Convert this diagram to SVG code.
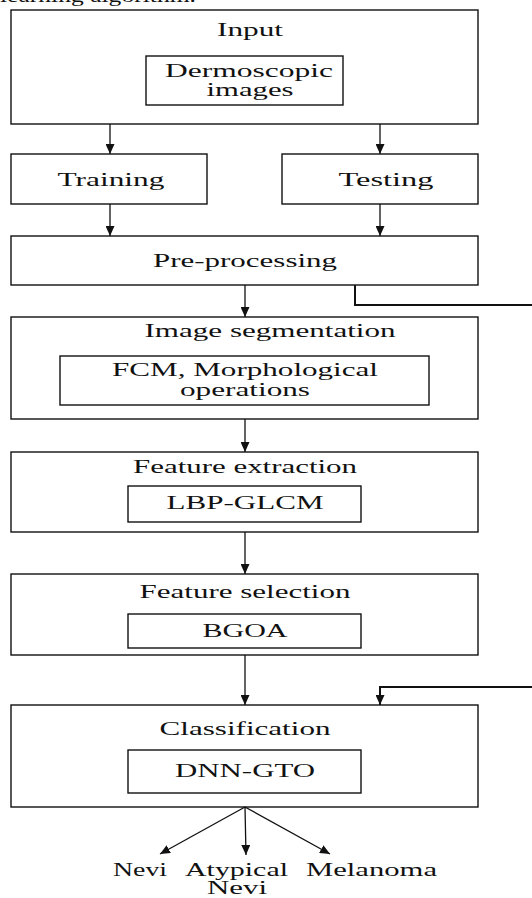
<svg xmlns="http://www.w3.org/2000/svg" width="532" height="898" viewBox="0 0 532 898">
<style>
  .box { fill: #ffffff; stroke: #111111; stroke-width: 1.4; }
  .t { font-family: "Liberation Serif", "Times New Roman", serif; font-size: 19px; fill: #111111; text-anchor: middle; }
  .c { fill: none; stroke: #111111; stroke-width: 1.3; }
  .cb { fill: none; stroke: #111111; stroke-width: 2; }
</style>
<defs>
  <marker id="ah" markerUnits="userSpaceOnUse" markerWidth="10" markerHeight="9" refX="10" refY="4.5" orient="auto" viewBox="0 0 10 9">
    <path d="M0,0 L10,4.5 L0,9 z" fill="#111111"/>
  </marker>
</defs>
<rect width="532" height="898" fill="#ffffff"/>
<text x="98" y="1.5" class="t" textLength="196" lengthAdjust="spacingAndGlyphs">learning algorithm.</text>

<g id="input">
  <rect class="box" x="11" y="10" width="467" height="114"/>
  <text class="t" x="250" y="36" textLength="66" lengthAdjust="spacingAndGlyphs">Input</text>
</g>
<g id="dermoscopic">
  <rect class="box" x="146" y="56" width="197" height="49"/>
  <text class="t" x="249" y="77" textLength="168" lengthAdjust="spacingAndGlyphs">Dermoscopic</text>
  <text class="t" x="250" y="96" textLength="87" lengthAdjust="spacingAndGlyphs">images</text>
</g>
<g id="training">
  <rect class="box" x="11" y="154" width="196" height="50"/>
  <text class="t" x="111" y="186" textLength="107" lengthAdjust="spacingAndGlyphs">Training</text>
</g>
<g id="testing">
  <rect class="box" x="282" y="154" width="196" height="50"/>
  <text class="t" x="386" y="186" textLength="95" lengthAdjust="spacingAndGlyphs">Testing</text>
</g>
<g id="preprocessing">
  <rect class="box" x="11" y="236" width="467" height="49"/>
  <text class="t" x="245" y="267" textLength="184" lengthAdjust="spacingAndGlyphs">Pre-processing</text>
</g>
<g id="segmentation">
  <rect class="box" x="11" y="317" width="467" height="102"/>
  <text class="t" x="270" y="337" textLength="251" lengthAdjust="spacingAndGlyphs">Image segmentation</text>
</g>
<g id="fcm">
  <rect class="box" x="60" y="356" width="369" height="49"/>
  <text class="t" x="245" y="376" textLength="266" lengthAdjust="spacingAndGlyphs">FCM, Morphological</text>
  <text class="t" x="245" y="396" textLength="130" lengthAdjust="spacingAndGlyphs">operations</text>
</g>
<g id="extraction">
  <rect class="box" x="11" y="452" width="467" height="80"/>
  <text class="t" x="245" y="473" textLength="224" lengthAdjust="spacingAndGlyphs">Feature extraction</text>
</g>
<g id="lbp">
  <rect class="box" x="128" y="486" width="233" height="36"/>
  <text class="t" x="245" y="509" textLength="157" lengthAdjust="spacingAndGlyphs">LBP-GLCM</text>
</g>
<g id="selection">
  <rect class="box" x="11" y="574" width="467" height="81"/>
  <text class="t" x="245" y="598" textLength="211" lengthAdjust="spacingAndGlyphs">Feature selection</text>
</g>
<g id="bgoa">
  <rect class="box" x="128" y="614" width="233" height="34"/>
  <text class="t" x="245" y="637" textLength="85" lengthAdjust="spacingAndGlyphs">BGOA</text>
</g>
<g id="classification">
  <rect class="box" x="11" y="705" width="467" height="102"/>
  <text class="t" x="245" y="735" textLength="171" lengthAdjust="spacingAndGlyphs">Classification</text>
</g>
<g id="dnngto">
  <rect class="box" x="128" y="750" width="233" height="43"/>
  <text class="t" x="245" y="777" textLength="140" lengthAdjust="spacingAndGlyphs">DNN-GTO</text>
</g>
<g id="outputs">
  <text class="t" x="140" y="876" textLength="54" lengthAdjust="spacingAndGlyphs">Nevi</text>
  <text class="t" x="236.5" y="876" textLength="103" lengthAdjust="spacingAndGlyphs">Atypical</text>
  <text class="t" x="237" y="894" textLength="60" lengthAdjust="spacingAndGlyphs">Nevi</text>
  <text class="t" x="371.5" y="876" textLength="131" lengthAdjust="spacingAndGlyphs">Melanoma</text>
</g>

<g id="connectors">
  <line class="c" x1="110" y1="124" x2="110" y2="154" marker-end="url(#ah)"/>
  <line class="c" x1="380" y1="124" x2="380" y2="154" marker-end="url(#ah)"/>
  <line class="c" x1="110" y1="204" x2="110" y2="236" marker-end="url(#ah)"/>
  <line class="c" x1="380" y1="204" x2="380" y2="236" marker-end="url(#ah)"/>
  <line class="c" x1="245" y1="285" x2="245" y2="317" marker-end="url(#ah)"/>
  <polyline class="cb" points="355,285 355,305 532,305"/>
  <line class="c" x1="245" y1="419" x2="245" y2="452" marker-end="url(#ah)"/>
  <line class="c" x1="245" y1="532" x2="245" y2="574" marker-end="url(#ah)"/>
  <line class="c" x1="245" y1="655" x2="245" y2="705" marker-end="url(#ah)"/>
  <polyline class="cb" points="532,687 380,687 380,705" marker-end="url(#ah)"/>
  <line class="c" x1="245" y1="807" x2="160" y2="854" marker-end="url(#ah)"/>
  <line class="c" x1="245" y1="807" x2="246" y2="855" marker-end="url(#ah)"/>
  <line class="c" x1="245" y1="807" x2="330" y2="854" marker-end="url(#ah)"/>
</g>
</svg>
